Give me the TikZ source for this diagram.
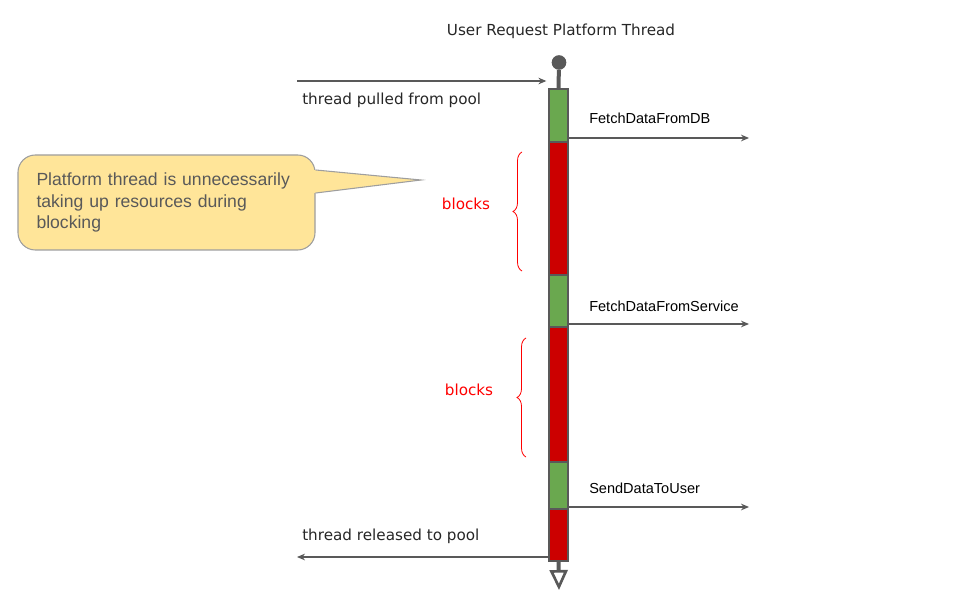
\documentclass[tikz,border=0pt]{standalone}
\usepackage{fontspec}
\setmainfont{Liberation Sans}
\newfontfamily\handfont{DejaVu Sans}
\usetikzlibrary{arrows.meta,positioning,decorations.pathreplacing}
\definecolor{cgreen}{HTML}{6AA84F}
\definecolor{cred}{HTML}{CC0000}
\definecolor{cdark}{HTML}{595959}
\definecolor{cnote}{HTML}{FFE599}
\definecolor{cnoteline}{HTML}{9E9E9E}
\definecolor{cbrace}{HTML}{FF0000}

\begin{document}
\begin{tikzpicture}[x=0.75pt,y=-0.75pt,
  hand/.style={font=\handfont\fontsize{11.4}{13}\selectfont,text=black!85,inner sep=0pt},
  lbl/.style={font=\fontsize{10.9}{13}\selectfont,text=black,inner sep=0pt,anchor=west},
  seg/.style={draw=cdark,line width=1pt,minimum width=14.25pt,inner sep=0pt,outer sep=0pt},
  arr/.style={-{Stealth[length=6pt,width=5pt,inset=2pt]},line width=0.8pt,cdark},
  stem/.style={line width=3pt,cdark},
  brc/.style={decorate,decoration={brace,amplitude=6.75pt},draw=cbrace,line width=0.6pt},
  blk/.style={hand,text=cbrace},
  note/.style={rounded corners=13pt,draw=cnoteline,fill=cnote,line width=0.8pt,
    minimum width=222.75pt,minimum height=71.25pt,text width=195pt,align=left,
    font=\fontsize{13.2}{16.2}\selectfont,text=cdark}]
  \useasboundingbox (0,0) rectangle (980,591);
  \node[hand] (title) at (561,31) {User Request Platform Thread};
  % thread bar
  \node[circle,fill=cdark,minimum size=11pt,inner sep=0pt] (start) at (559,62.5) {};
  \node[seg,fill=cgreen,minimum height=39.75pt,anchor=north] (g1) at (558.5,89) {};
  \node[seg,fill=cred,minimum height=99.75pt,below=0pt of g1] (r1) {};
  \node[seg,fill=cgreen,minimum height=39pt,below=0pt of r1] (g2) {};
  \node[seg,fill=cred,minimum height=101.25pt,below=0pt of g2] (r2) {};
  \node[seg,fill=cgreen,minimum height=35.25pt,below=0pt of r2] (g3) {};
  \node[seg,fill=cred,minimum height=39pt,below=0pt of g3] (r3) {};
  \draw[stem] (start) -- (g1.north);
  \coordinate (done) at (559,590);
  \draw[stem,-{Triangle[open,length=15pt,width=13.5pt,line width=2pt]}] (r3.south) -- (done);
  % in and out of the pool
  \coordinate (pin) at (297,81);
  \draw[arr,shorten >=2pt] (pin) -- (pin -| g1.west);
  \node[hand,anchor=west] (pull) at (302,100) {thread pulled from pool};
  \coordinate (pout) at (297,557);
  \draw[arr] (r3.west |- pout) -- (pout);
  \node[hand,anchor=west] (rel) at (302,536) {thread released to pool};
  % calls
  \coordinate (db) at (749,138);
  \draw[arr] (g1.east |- db) -- (db);
  \node[lbl] (fdb) at (589,118) {FetchDataFromDB};
  \coordinate (svc) at (749,324);
  \draw[arr] (g2.east |- svc) -- (svc);
  \node[lbl] (fsv) at (589,306) {FetchDataFromService};
  \coordinate (usr) at (749,507);
  \draw[arr] (g3.east |- usr) -- (usr);
  \node[lbl] (sdu) at (589,488) {SendDataToUser};
  % blocking spans
  \draw[brc] (522,271) -- (522,152);
  \node[blk] (b1) at (466,204) {blocks};
  \draw[brc] (526,457) -- (526,338);
  \node[blk] (b2) at (469,390) {blocks};
  % note
  \node[note] (n) at (166.5,202.5) {Platform thread is unnecessarily\\taking up resources during\\blocking};
  \coordinate (ptip) at (421,180);
  \fill[cnote] ([xshift=-1pt,yshift=24.4pt]n.east) -- (ptip) -- ([xshift=-1pt,yshift=7.1pt]n.east) -- cycle;
  \draw[cnoteline,line width=0.8pt] ([yshift=24.4pt]n.east) -- (ptip) -- ([yshift=7.1pt]n.east);
\end{tikzpicture}
\end{document}
